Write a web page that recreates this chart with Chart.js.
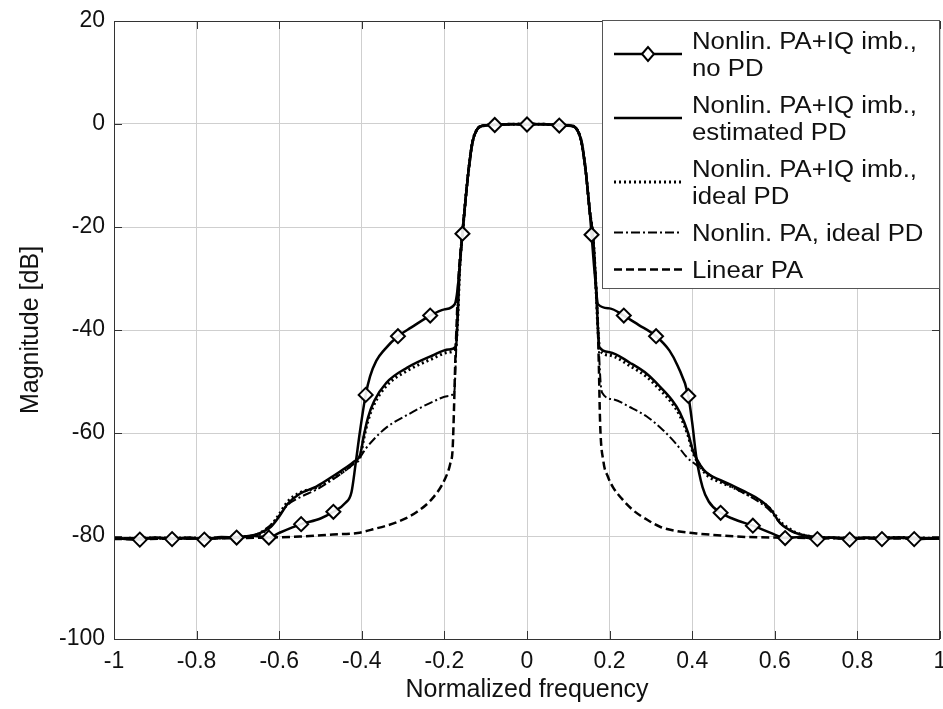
<!DOCTYPE html>
<html>
<head>
<meta charset="utf-8">
<script src="https://cdn.jsdelivr.net/npm/chart.js@4.4.9/dist/chart.umd.min.js"></script>
<style>
  html, body { margin: 0; padding: 0; background: #fff; }
  canvas { display: block; }
</style>
</head>
<body>
<canvas id="spectrum-chart" width="943" height="709"></canvas>
<script>
// diamond markers sit every 0.078125 of normalized frequency
const markerFreqs = [-0.9375, -0.8594, -0.7813, -0.7031, -0.625, -0.5469, -0.4688, -0.3906, -0.3125, -0.2344, -0.1563, -0.0781, 0,
    0.0781, 0.1563, 0.2344, 0.3125, 0.3906, 0.4688, 0.5469, 0.625, 0.7031, 0.7813, 0.8594, 0.9375];

// Nonlin. PA+IQ imb., no PD
const freqNoPD = [-1, -0.9375, -0.9, -0.8594, -0.82, -0.7813, -0.74, -0.7031, -0.66, -0.625, -0.6, -0.5469, -0.5, -0.4688, -0.44, -0.425, -0.415, -0.405,
    -0.3906, -0.38, -0.365, -0.345, -0.3125, -0.28, -0.2344, -0.2, -0.175, -0.168, -0.1563, -0.148, -0.14, -0.132, -0.122, -0.11, -0.0781, -0.04, 0,
    0.04, 0.0781, 0.11, 0.122, 0.132, 0.142, 0.152, 0.1563, 0.165, 0.172, 0.2, 0.2344, 0.27, 0.3125, 0.345, 0.365, 0.3906, 0.4, 0.41, 0.425, 0.44,
    0.4688, 0.5, 0.5469, 0.59, 0.625, 0.66, 0.7031, 0.74, 0.7813, 0.82, 0.8594, 0.9, 0.9375, 1];
const magNoPD = [-80.4, -80.7, -80.3, -80.6, -80.3, -80.7, -80.2, -80.3, -80.0, -80.3, -79.4, -77.7, -76.6, -75.3, -73.6, -71.5, -66, -60,
    -52.6, -49, -46, -43.8, -41.2, -39.5, -37.2, -36.0, -35.0, -32, -21.3, -14, -8, -3.5, -1.2, -0.4, -0.2, 0, -0.1,
    0, -0.3, -0.4, -1.2, -3.5, -9, -17, -21.5, -30, -35, -35.8, -37.2, -39, -41.2, -44, -47, -52.8, -58, -64.7, -70.5, -73.3,
    -75.5, -76.7, -78.0, -79.4, -80.4, -80.2, -80.6, -80.3, -80.7, -80.3, -80.6, -80.3, -80.6, -80.4];

// Nonlin. PA+IQ imb., estimated PD
const freqEstPD = [-1, -0.9, -0.8, -0.7, -0.66, -0.64, -0.62, -0.6, -0.58, -0.55, -0.51, -0.47, -0.44, -0.42, -0.404, -0.395, -0.385, -0.37, -0.34,
    -0.29, -0.23, -0.19, -0.172, -0.168, -0.163, -0.1563, -0.148, -0.14, -0.132, -0.122, -0.11, -0.06, 0,
    0.06, 0.11, 0.122, 0.132, 0.142, 0.152, 0.16, 0.166, 0.172, 0.175, 0.2, 0.25, 0.29, 0.322, 0.35, 0.37, 0.39, 0.402, 0.42, 0.436,
    0.47, 0.5, 0.533, 0.56, 0.59, 0.613, 0.635, 0.653, 0.7, 0.8, 0.9, 1];
const magEstPD = [-80.5, -80.4, -80.5, -80.2, -79.8, -79.2, -78.2, -76.2, -73.8, -71.8, -70.4, -68.4, -66.8, -65.6, -64.2, -60.5, -57, -53.8, -50.2,
    -47.3, -45, -43.8, -43.2, -38, -28, -21.3, -14, -8, -3.5, -1.2, -0.4, -0.1, 0,
    -0.1, -0.4, -1.2, -3.5, -9, -17, -22, -30, -40, -43.3, -44.3, -46.4, -48.5, -51, -53.5, -56, -60, -63.5, -66.3, -67.8,
    -69.2, -70.3, -71.6, -72.8, -74.8, -77.5, -78.8, -79.5, -80.2, -80.4, -80.3, -80.5];

// Nonlin. PA+IQ imb., ideal PD
const freqIdealPD = [-1, -0.9, -0.8, -0.7, -0.66, -0.64, -0.62, -0.6, -0.58, -0.55, -0.51, -0.47, -0.44, -0.42, -0.404, -0.395, -0.385, -0.37, -0.34,
    -0.29, -0.23, -0.19, -0.173, -0.168, -0.163, -0.1563, -0.148, -0.14, -0.132, -0.122, -0.11, -0.06, 0,
    0.06, 0.11, 0.122, 0.132, 0.142, 0.152, 0.16, 0.166, 0.172, 0.176, 0.2, 0.25, 0.29, 0.322, 0.35, 0.37, 0.39, 0.402, 0.42, 0.436,
    0.47, 0.5, 0.533, 0.56, 0.59, 0.613, 0.635, 0.653, 0.7, 0.8, 0.9, 1];
const magIdealPD = [-80.5, -80.4, -80.4, -80.2, -79.9, -79.3, -78.0, -75.8, -73.4, -71.6, -70.6, -68.8, -67.2, -65.9, -64.6, -61, -57.6, -54.4, -50.8,
    -47.9, -45.6, -44.3, -43.6, -38, -28, -21.3, -14, -8, -3.5, -1.2, -0.4, -0.1, 0,
    -0.1, -0.4, -1.2, -3.5, -9, -17, -22, -30, -40, -43.8, -44.9, -47, -49.1, -51.6, -54.1, -56.6, -60.5, -63.8, -66.5, -68.2,
    -69.6, -70.6, -71.9, -73.0, -74.8, -77.2, -78.6, -79.4, -80.2, -80.4, -80.3, -80.5];

// Nonlin. PA, ideal PD
const freqPAOnly = [-1, -0.8, -0.7, -0.66, -0.64, -0.62, -0.6, -0.58, -0.55, -0.51, -0.47, -0.44, -0.42, -0.404, -0.39, -0.373, -0.34, -0.29, -0.23,
    -0.19, -0.176, -0.172, -0.168, -0.163, -0.1563, -0.148, -0.14, -0.132, -0.122, -0.11, -0.06, 0,
    0.06, 0.11, 0.122, 0.132, 0.142, 0.152, 0.16, 0.166, 0.172, 0.178, 0.182, 0.21, 0.25, 0.29, 0.329, 0.36, 0.387, 0.42, 0.45, 0.5, 0.533, 0.56,
    0.59, 0.613, 0.64, 0.7, 0.8, 1];
const magPAOnly = [-80.5, -80.4, -80.2, -79.8, -79, -77.8, -76, -74, -72.5, -71, -69, -67.3, -66, -64.7, -63, -61.4, -58.9, -56.5, -54,
    -52.8, -52, -45, -36, -28, -21.3, -14, -8, -3.5, -1.2, -0.4, -0.1, 0,
    -0.1, -0.4, -1.2, -3.5, -9, -17, -22, -30, -40, -50, -52.2, -53.5, -55, -56.8, -59.4, -62, -64.7, -66.8, -68.5, -70.6, -72, -73.3,
    -75.2, -77.5, -79, -80.2, -80.4, -80.5];

// Linear PA
const freqLinear = [-1, -0.8, -0.7, -0.62, -0.55, -0.47, -0.41, -0.373, -0.315, -0.266, -0.228, -0.199, -0.186, -0.18, -0.177, -0.174, -0.17, -0.166,
    -0.1563, -0.148, -0.14, -0.132, -0.122, -0.11, -0.06, 0,
    0.06, 0.11, 0.122, 0.132, 0.142, 0.152, 0.16, 0.166, 0.171, 0.174, 0.177, 0.185, 0.196, 0.208, 0.23, 0.257, 0.29, 0.322, 0.36, 0.41, 0.47,
    0.533, 0.6, 0.7, 0.8, 1];
const magLinear = [-80.6, -80.5, -80.4, -80.3, -80.1, -79.7, -79.4, -78.7, -77.3, -75.3, -72.6, -69, -66, -63, -56, -47, -38, -30,
    -21.3, -14, -8, -3.5, -1.2, -0.4, -0.1, 0,
    -0.1, -0.4, -1.2, -3.5, -9, -17, -22, -30, -38, -47, -58, -65.5, -68.5, -70.5, -72.8, -75, -76.8, -78.2, -79, -79.5, -79.9,
    -80.2, -80.3, -80.4, -80.5, -80.5];

const xTicks = [-1, -0.8, -0.6, -0.4, -0.2, 0, 0.2, 0.4, 0.6, 0.8, 1];
const yTicks = [-100, -80, -60, -40, -20, 0, 20];

const toPoints = (xs, ys) => xs.map((x, i) => ({ x: x, y: ys[i] }));
const isMarker = (x) => markerFreqs.some(m => Math.abs(m - x) < 1e-6);

const FONT = '"Liberation Sans", Arial, sans-serif';

// MATLAB-ish box with inward ticks
const axesBox = {
    id: 'axesBox',
    afterDraw(chart) {
        const { ctx, chartArea: a, scales } = chart;
        ctx.save();
        ctx.strokeStyle = '#333';
        ctx.lineWidth = 1;
        ctx.beginPath();
        xTicks.forEach(v => {
            const px = Math.round(scales.x.getPixelForValue(v)) + 0.5;
            ctx.moveTo(px, a.bottom); ctx.lineTo(px, a.bottom - 8);
            ctx.moveTo(px, a.top); ctx.lineTo(px, a.top + 8);
        });
        yTicks.forEach(v => {
            const py = Math.round(scales.y.getPixelForValue(v)) + 0.5;
            ctx.moveTo(a.left, py); ctx.lineTo(a.left + 8, py);
            ctx.moveTo(a.right, py); ctx.lineTo(a.right - 8, py);
        });
        ctx.stroke();
        ctx.strokeRect(Math.round(a.left) + 0.5, Math.round(a.top) + 0.5, Math.round(a.right - a.left) - 1, Math.round(a.bottom - a.top));
        ctx.restore();
    }
};

// legend drawn like the MATLAB one: line sample (with marker) and two-line labels
const legendBox = {
    id: 'legendBox',
    afterDraw(chart) {
        const { ctx, chartArea: a } = chart;
        const left = a.right - 338, top = a.top - 1, width = 338, height = 268;
        const lineGap = 27;
        ctx.save();
        ctx.fillStyle = '#fff';
        ctx.fillRect(left, top, width, height);
        ctx.strokeStyle = '#555';
        ctx.lineWidth = 1;
        ctx.strokeRect(left + 0.5, top + 0.5, width - 1, height);

        let y = top + 2;
        chart.data.datasets.forEach(ds => {
            const lines = ds.legendLines;
            const entryH = lines.length * lineGap + 10;
            const cy = y + entryH / 2;
            ctx.strokeStyle = '#000';
            ctx.lineWidth = ds.borderWidth;
            ctx.setLineDash(ds.borderDash || []);
            ctx.beginPath();
            ctx.moveTo(left + 12, cy);
            ctx.lineTo(left + 80, cy);
            ctx.stroke();
            ctx.setLineDash([]);
            if (ds.legendMarker) {
                ctx.fillStyle = '#fff';
                ctx.lineWidth = 2;
                ctx.beginPath();
                ctx.moveTo(left + 46 - 6, cy);
                ctx.lineTo(left + 46, cy - 7);
                ctx.lineTo(left + 46 + 6, cy);
                ctx.lineTo(left + 46, cy + 7);
                ctx.closePath();
                ctx.fill();
                ctx.stroke();
            }
            ctx.fillStyle = '#111';
            ctx.font = '23px ' + FONT;
            ctx.textBaseline = 'alphabetic';
            lines.forEach((t, i) => {
                const capMid = cy - (lines.length - 1) * lineGap / 2 + i * lineGap;
                ctx.save();
                ctx.translate(left + 90, capMid + 8);
                ctx.scale(1.12, 1);
                ctx.fillText(t, 0, 0);
                ctx.restore();
            });
            y += entryH;
        });
        ctx.restore();
    }
};

const datasets = [
    {
        label: 'Nonlin. PA+IQ imb., no PD',
        legendLines: ['Nonlin. PA+IQ imb.,', 'no PD'],
        legendMarker: true,
        data: toPoints(freqNoPD, magNoPD),
        borderWidth: 2.5,
        pointStyle: 'rectRot',
        pointRadius: ctx => isMarker(ctx.raw.x) ? 7 : 0,
        pointBorderWidth: 2,
        pointBackgroundColor: 'rgba(255,255,255,0.9)',
        order: 1
    },
    {
        label: 'Nonlin. PA+IQ imb., estimated PD',
        legendLines: ['Nonlin. PA+IQ imb.,', 'estimated PD'],
        data: toPoints(freqEstPD, magEstPD),
        borderWidth: 2.5,
        order: 2
    },
    {
        label: 'Nonlin. PA+IQ imb., ideal PD',
        legendLines: ['Nonlin. PA+IQ imb.,', 'ideal PD'],
        data: toPoints(freqIdealPD, magIdealPD),
        borderWidth: 3,
        borderDash: [2, 3],
        order: 3
    },
    {
        label: 'Nonlin. PA, ideal PD',
        legendLines: ['Nonlin. PA, ideal PD'],
        data: toPoints(freqPAOnly, magPAOnly),
        borderWidth: 2,
        borderDash: [9, 3, 2, 3],
        order: 4
    },
    {
        label: 'Linear PA',
        legendLines: ['Linear PA'],
        data: toPoints(freqLinear, magLinear),
        borderWidth: 2.5,
        borderDash: [8, 4],
        order: 5
    }
];

datasets.forEach(ds => {
    ds.borderColor = '#000';
    ds.pointBorderColor = '#000';
    ds.showLine = true;
    ds.cubicInterpolationMode = 'monotone';
    if (ds.pointRadius === undefined) ds.pointRadius = 0;
});

new Chart(document.getElementById('spectrum-chart').getContext('2d'), {
    type: 'scatter',
    data: { datasets: datasets },
    options: {
        responsive: false,
        animation: false,
        layout: { padding: { top: 21, right: 3, left: 0, bottom: 0 } },
        plugins: {
            legend: { display: false },
            tooltip: { enabled: false }
        },
        scales: {
            x: {
                type: 'linear',
                min: -1,
                max: 1,
                afterBuildTicks: scale => { scale.ticks = xTicks.map(v => ({ value: v })); },
                afterFit: scale => { scale.height = 70; scale.paddingLeft = 0; scale.paddingRight = 0; },
                ticks: {
                    font: { family: FONT, size: 23 },
                    color: '#111',
                    padding: 9,
                    maxRotation: 0,
                    callback: v => String(v)
                },
                grid: { color: '#cfcfcf', drawTicks: false },
                border: { display: false },
                title: {
                    display: true,
                    text: 'Normalized frequency',
                    font: { family: FONT, size: 25 },
                    color: '#111',
                    padding: { bottom: 4 }
                }
            },
            y: {
                type: 'linear',
                min: -100,
                max: 20,
                afterBuildTicks: scale => { scale.ticks = yTicks.map(v => ({ value: v })); },
                afterFit: scale => { scale.width = 114; scale.paddingTop = 0; scale.paddingBottom = 0; },
                ticks: {
                    font: { family: FONT, size: 23 },
                    color: '#111',
                    padding: 9
                },
                grid: { color: '#cfcfcf', drawTicks: false },
                border: { display: false },
                title: {
                    display: true,
                    text: 'Magnitude [dB]',
                    font: { family: FONT, size: 25 },
                    color: '#111',
                    padding: { top: 16 }
                }
            }
        }
    },
    plugins: [axesBox, legendBox]
});
</script>
</body>
</html>
